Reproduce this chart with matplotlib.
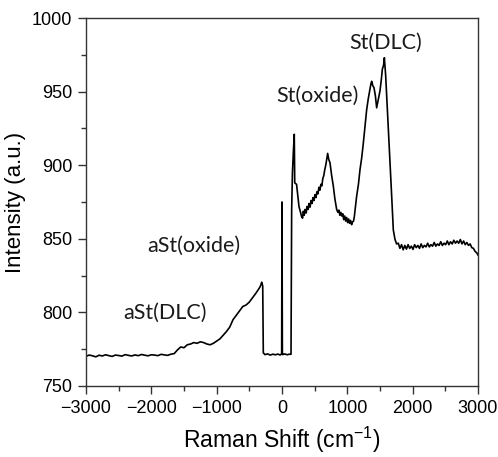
import matplotlib.pyplot as plt
from matplotlib.ticker import MultipleLocator

plt.rcParams['mathtext.fontset'] = 'custom'
plt.rcParams['mathtext.rm'] = 'Liberation Sans'
plt.rcParams['mathtext.it'] = 'Liberation Sans:italic'

# Raman spectrum
shift = [
    -3000, -2950, -2900, -2850, -2800, -2750, -2700, -2650, -2600, -2550,
    -2500, -2450, -2400, -2350, -2300, -2250, -2200, -2150, -2100, -2050,
    -2000, -1950, -1900, -1850, -1800, -1750, -1700, -1650, -1600, -1550,
    -1500, -1450, -1400, -1350, -1300, -1250, -1200, -1150, -1100, -1050,
    -1000, -950, -900, -850, -800, -750, -700, -650, -600, -550,
    -500, -450, -400, -370, -340, -320, -311, -295, -286, -260,
    -220, -180, -140, -100, -60, -30, -15, -5, 0, 3,
    6, 10, 40, 80, 110, 138, 148, 160, 175, 188,
    195, 210, 223, 260,
    301, 315, 326, 340, 355, 370, 385, 400, 415, 430,
    445, 460, 475, 490, 505, 520, 535, 550, 565, 580,
    595, 610, 625, 640, 655, 670, 685, 699, 715, 735,
    760, 786, 810, 837, 855, 870, 885, 900, 914, 930,
    945, 960, 975, 990, 1005, 1020, 1035, 1050, 1066, 1080,
    1095, 1107, 1125, 1143, 1170, 1194, 1220, 1245, 1270, 1296,
    1320, 1347, 1360, 1373, 1390, 1408, 1430, 1449, 1475, 1500,
    1520, 1536, 1555, 1567, 1587, 1605, 1628, 1655, 1679, 1704,
    1730, 1755, 1780, 1805, 1830, 1855, 1880, 1905, 1930, 1955,
    1980, 2005, 2030, 2055, 2080, 2105, 2130, 2155, 2180, 2205,
    2230, 2255, 2280, 2305, 2330, 2355, 2380, 2405, 2430, 2455,
    2480, 2505, 2530, 2555, 2580, 2605, 2630, 2655, 2680, 2705,
    2730, 2755, 2780, 2805, 2830, 2855, 2880, 2905, 2930, 2955,
    2980, 3000,
]
intensity = [
    770.2, 771.0, 770.5, 769.8, 770.9, 770.4, 771.2, 770.6, 770.1, 771.0,
    770.7, 770.3, 771.3, 770.8, 770.4, 771.1, 770.6, 771.4, 770.9, 770.5,
    771.2, 771.0, 770.6, 771.5, 771.1, 770.8, 771.6, 772.0, 774.5, 776.5,
    776.0, 778.0, 778.5, 779.5, 779.0, 780.0, 779.5, 778.5, 778.0, 779.0,
    780.5, 782.0, 784.5, 787.0, 790.0, 795.0, 798.0, 801.0, 804.0, 805.0,
    807.0, 810.0, 813.0, 815.0, 817.0, 819.0, 820.5, 818.0, 772.5, 771.3,
    771.8, 771.0, 771.6, 771.2, 771.7, 771.0, 771.5, 772.0, 875.0, 827.0,
    772.0, 771.3, 771.8, 771.2, 771.6, 771.5, 870.0, 895.0, 910.0, 921.0,
    888.0, 887.5, 887.0, 872.0,
    865.0, 864.0, 868.7, 866.0, 870.0, 867.5, 872.0, 870.0, 874.0, 871.5,
    876.0, 874.0, 878.0, 876.0, 880.0, 878.0, 882.0, 880.5, 885.0, 883.0,
    887.0, 886.0, 891.0, 893.0, 897.0, 900.0, 904.0, 908.0, 904.0, 901.6,
    893.0, 885.7, 877.0, 869.9, 868.0, 869.5, 866.0, 868.0, 865.5, 867.0,
    863.0, 865.5, 862.0, 864.5, 861.0, 863.5, 860.5, 862.5, 859.6, 861.5,
    862.0, 865.0, 872.0, 879.0, 887.0, 897.0, 905.0, 915.0, 926.0, 937.7,
    945.0, 951.6, 955.0, 957.0, 954.0, 952.7, 947.0, 939.0, 945.0, 950.5,
    958.0, 965.2, 968.0, 973.0, 960.9, 945.0, 924.3, 900.0, 879.0, 856.0,
    849.5, 846.5, 847.0, 843.5, 846.0, 842.5, 845.5, 843.0, 846.0, 843.5,
    845.0, 842.8, 846.0, 844.0, 845.5, 843.5, 846.5, 844.0, 845.5, 844.5,
    847.0, 844.5, 846.0, 845.0, 847.5, 845.0, 846.5, 845.5, 848.0, 845.5,
    847.0, 846.0, 848.5, 846.0, 848.0, 846.5, 849.0, 847.0, 848.5, 847.0,
    849.5, 846.5, 848.5, 846.0, 847.5, 845.5, 846.5, 844.0, 843.5, 841.5,
    840.5, 839.0,
]
assert len(shift) == len(intensity)

# peak labels
labels = ['St(DLC)', 'St(oxide)', 'aSt(oxide)', 'aSt(DLC)']
label_x = [1587, 550, -1347, -1791]
label_y = [983, 947, 845, 800]

fig = plt.figure(figsize=(4.98, 4.57), dpi=100)
ax = fig.add_axes([0.1727, 0.1554, 0.7871, 0.8052])

ax.plot(shift, intensity, color='black', linewidth=1.2)

for txt, lx, ly in zip(labels, label_x, label_y):
    ax.text(lx, ly, txt, ha='center', va='center', fontsize=15.5,
            family='Lato', color='#1a1a1a')

ax.set_xlim(-3000, 3000)
ax.set_ylim(750, 1000)
ax.xaxis.set_major_locator(MultipleLocator(1000))
ax.xaxis.set_minor_locator(MultipleLocator(500))
ax.yaxis.set_major_locator(MultipleLocator(50))
ax.yaxis.set_minor_locator(MultipleLocator(25))

ax.tick_params(which='major', direction='out', length=6, width=1,
               labelsize=13, pad=4, color='#333333')
ax.tick_params(which='minor', direction='out', length=3.5, width=1,
               color='#333333')
for lab in ax.get_xticklabels() + ax.get_yticklabels():
    lab.set_family('Liberation Sans')
for sp in ax.spines.values():
    sp.set_color('#333333')
    sp.set_linewidth(1)

ax.set_xlabel('Raman Shift (cm$^{-1}$)', fontsize=16.5, family='Liberation Sans',
              labelpad=6)
ax.set_ylabel('Intensity (a.u.)', fontsize=16, family='Liberation Sans',
              labelpad=4)

fig.savefig('out.png', dpi=100)
